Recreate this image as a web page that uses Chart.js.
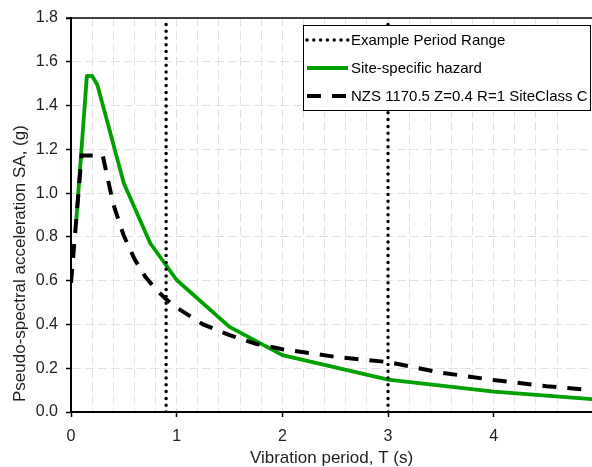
<!DOCTYPE html>
<html>
<head>
<meta charset="utf-8">
<script src="https://cdn.jsdelivr.net/npm/chart.js@4.4.0/dist/chart.umd.min.js"></script>
<style>
  html, body { margin: 0; padding: 0; background: #fff; }
  #wrap { width: 592px; height: 467px; }
</style>
</head>
<body>
<div id="wrap"><canvas id="spectraChart" width="592" height="467"></canvas></div>
<script>
// example period range (vertical markers)
const rangePeriods = [0.9, 3.0];
const rangeSA = [0, 1.8];

// site-specific hazard spectrum
const sitePeriods = [0.05, 0.15, 0.2, 0.25, 0.5, 0.75, 1.0, 1.5, 2.0, 3.0, 4.0, 5.0];
const siteSA = [0.875, 1.535, 1.535, 1.494, 1.045, 0.771, 0.603, 0.389, 0.26, 0.148, 0.093, 0.056];

// NZS 1170.5 Z=0.4 R=1 site class C
const codePeriods = [0, 0.1, 0.3, 0.4, 0.5, 0.6, 0.7, 0.8, 0.9, 1.0, 1.25, 1.5, 1.75, 2.0, 2.5, 3.0, 3.5, 4.0, 4.5, 5.0];
const codeSA = [0.59, 1.172, 1.172, 0.95, 0.805, 0.70, 0.62, 0.562, 0.515, 0.477, 0.40, 0.351, 0.311, 0.287, 0.252, 0.228, 0.18, 0.146, 0.118, 0.097];

const xTickLabels = [0, 1, 2, 3, 4];

const toPoints = (xs, ys) => xs.map((x, i) => ({ x: x, y: ys[i] }));
const isMajor = v => xTickLabels.some(t => Math.abs(t - v) < 1e-6);

const FONT = "'Liberation Sans', Arial, sans-serif";
const GREEN = '#00a000';
const GRID = '#e2e2e2';
const TEXT = '#1e1e1e';

Chart.defaults.font.family = FONT;
Chart.defaults.color = TEXT;

const dotted = {
  borderColor: '#000',
  borderWidth: 3.5,
  borderDash: [0, 6.8],
  borderCapStyle: 'round',
  pointRadius: 0,
  order: 0
};

// top frame line + y axis title
const frame = {
  id: 'frame',
  afterDraw(chart) {
    const ctx = chart.ctx;
    const a = chart.chartArea;
    ctx.save();
    ctx.strokeStyle = '#000';
    ctx.lineWidth = 1.5;
    ctx.beginPath();
    ctx.moveTo(a.left - 5, a.top);
    ctx.lineTo(a.right, a.top);
    ctx.stroke();

    ctx.translate(25, 402);
    ctx.rotate(-Math.PI / 2);
    ctx.fillStyle = TEXT;
    ctx.font = '17px ' + FONT;
    ctx.textAlign = 'left';
    ctx.textBaseline = 'alphabetic';
    ctx.fillText('Pseudo-spectral acceleration SA, (g)', 0, 0);
    ctx.restore();
  }
};

// boxed legend in the upper right
const boxLegend = {
  id: 'boxLegend',
  afterDraw(chart) {
    const ctx = chart.ctx;
    const items = chart.data.datasets.filter(d => d.label);
    const left = 303, top = 25, w = 287, h = 85;
    ctx.save();
    ctx.fillStyle = '#fff';
    ctx.fillRect(left, top, w, h);
    ctx.strokeStyle = '#000';
    ctx.lineWidth = 1;
    ctx.strokeRect(left + 0.5, top + 0.5, w, h);
    items.forEach((d, i) => {
      const y = top + 15 + i * 28;
      ctx.beginPath();
      ctx.setLineDash(d.borderDash || []);
      ctx.lineCap = d.borderCapStyle || 'butt';
      ctx.lineWidth = d.borderWidth;
      ctx.strokeStyle = d.borderColor;
      ctx.moveTo(307, y);
      ctx.lineTo(348, y);
      ctx.stroke();
      ctx.setLineDash([]);
      ctx.fillStyle = '#000';
      ctx.font = '15px ' + FONT;
      ctx.textBaseline = 'middle';
      ctx.fillText(d.label, 351, y + 0.5);
    });
    ctx.restore();
  }
};

const ctx = document.getElementById('spectraChart').getContext('2d');
const spectraChart = new Chart(ctx, {
  type: 'line',
  data: {
    datasets: [
      Object.assign({ label: 'Example Period Range',
        data: toPoints([rangePeriods[0], rangePeriods[0]], rangeSA) }, dotted),
      Object.assign({ data: toPoints([rangePeriods[1], rangePeriods[1]], rangeSA) }, dotted),
      {
        label: 'Site-specific hazard',
        data: toPoints(sitePeriods, siteSA),
        borderColor: GREEN,
        borderWidth: 3.8,
        pointRadius: 0,
        borderJoinStyle: 'round',
        order: 2
      },
      {
        label: 'NZS 1170.5 Z=0.4 R=1 SiteClass C',
        data: toPoints(codePeriods, codeSA),
        borderColor: '#000',
        borderWidth: 4,
        borderDash: [14, 11],
        pointRadius: 0,
        order: 1
      }
    ]
  },
  options: {
    responsive: false,
    animation: false,
    devicePixelRatio: 1,
    layout: { padding: { top: 18, right: 0, left: 0, bottom: 0 } },
    plugins: {
      legend: { display: false },
      tooltip: { enabled: false }
    },
    scales: {
      x: {
        type: 'linear',
        min: 0,
        max: 4.93,
        afterFit: s => { s.height = 55; s.paddingRight = 0; s.paddingLeft = 0; },
        ticks: {
          stepSize: 0.2,
          autoSkip: false,
          maxRotation: 0,
          padding: 10,
          font: { size: 16 },
          callback: v => isMajor(v) ? String(Math.round(v)) : ''
        },
        grid: {
          color: c => (c.tick && c.tick.value === 0) ? 'rgba(0,0,0,0)' : GRID,
          tickLength: 5,
          tickWidth: 1.5,
          tickBorderDash: [],
          tickColor: c => (c.tick && isMajor(c.tick.value)) ? '#000' : 'rgba(0,0,0,0)'
        },
        border: { color: '#000', width: 2, dash: [9, 4] },
        title: {
          display: true,
          text: 'Vibration period, T (s)',
          font: { size: 17, lineHeight: 1 },
          padding: { top: 0, bottom: 0 }
        }
      },
      y: {
        min: 0,
        max: 1.8,
        afterFit: s => { s.width = 71; },
        ticks: {
          stepSize: 0.2,
          padding: 8,
          font: { size: 16 },
          callback: v => v.toFixed(1)
        },
        grid: {
          color: c => (c.tick && (c.tick.value === 0 || Math.abs(c.tick.value - 1.8) < 1e-6)) ? 'rgba(0,0,0,0)' : GRID,
          tickLength: 5,
          tickWidth: 1.5,
          tickBorderDash: [],
          tickColor: '#000'
        },
        border: { color: '#000', width: 2, dash: [9, 4] }
      }
    }
  },
  plugins: [frame, boxLegend]
});
</script>
</body>
</html>
